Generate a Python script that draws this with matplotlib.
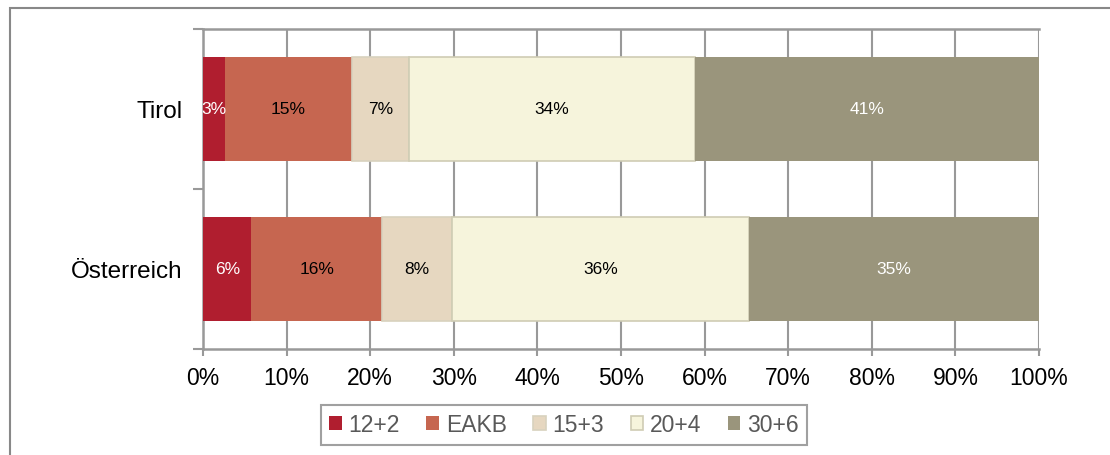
import numpy as np
import matplotlib
matplotlib.use('Agg')
import matplotlib.pyplot as plt
from matplotlib.patches import Rectangle

plt.rcParams['font.family'] = ['Liberation Sans', 'DejaVu Sans']

# data (shares in %)
regions = ['Tirol', 'Österreich']
series = ['12+2', 'EAKB', '15+3', '20+4', '30+6']
tirol = [2.6, 15.2, 6.8, 34.3, 41.1]
oesterreich = [5.8, 15.6, 8.4, 35.5, 34.7]
tirol_labels = ['3%', '15%', '7%', '34%', '41%']
oesterreich_labels = ['6%', '16%', '8%', '36%', '35%']

colors = ['#B01E2F', '#C66650', '#E6D7C0', '#F6F4DC', '#9A957C']
edges = ['none', 'none', '#D8D2BE', '#CFCCB4', 'none']
text_colors = ['white', 'black', 'black', 'black', 'white']

values = np.array([tirol, oesterreich])
labels = [tirol_labels, oesterreich_labels]
ypos = np.array([1, 0])

fig = plt.figure(figsize=(11.1, 4.55), dpi=100)
ax = fig.add_axes([203 / 1110, 1 - 349 / 455, 836 / 1110, 320 / 455])

left = np.zeros(len(regions))
for j, name in enumerate(series):
    w = values[:, j]
    ax.barh(ypos, w, left=left, height=0.65, color=colors[j],
            edgecolor=edges[j], linewidth=1.2 if edges[j] != 'none' else 0,
            label=name, zorder=3)
    for i in range(len(regions)):
        ax.text(left[i] + w[i] / 2, ypos[i], labels[i][j], ha='center',
                va='center', fontsize=12.5, color=text_colors[j], zorder=4)
    left += w

ax.set_xlim(0, 100)
ax.set_ylim(-0.5, 1.5)
ax.set_xticks(np.arange(0, 101, 10))
ax.set_xticklabels([f'{v}%' for v in range(0, 101, 10)], fontsize=16.5)
ax.set_yticks(ypos)
ax.set_yticklabels(regions, fontsize=17.5)
ax.set_yticks([-0.5, 0.5, 1.5], minor=True)
ax.tick_params(axis='y', which='major', length=0, pad=15)
ax.tick_params(axis='y', which='minor', length=7, width=1.5, color='#999999')
ax.tick_params(axis='x', length=5, width=1.5, color='#999999', pad=8)
ax.grid(axis='x', color='#999999', linewidth=1.5, zorder=1)
for s in ['left', 'bottom', 'top']:
    ax.spines[s].set_color('#999999')
    ax.spines[s].set_linewidth(1.8)
ax.spines['right'].set_visible(False)

handles, lbls = ax.get_legend_handles_labels()
leg = fig.legend(handles, lbls, loc='center', bbox_to_anchor=(564 / 1110, 1 - 425 / 455),
                 ncol=5, fontsize=16.5, frameon=True, fancybox=False,
                 handlelength=0.55, handleheight=0.55, handletextpad=0.3,
                 columnspacing=1.15, borderpad=0.35)
leg.get_frame().set_edgecolor('#888888')
leg.get_frame().set_linewidth(1.5)
for t in leg.get_texts():
    t.set_color('#595959')

# outer chart border
fig.patches.append(Rectangle((9.5 / 1110, -0.1), 1.2, 1.1 - 8.5 / 455,
                             transform=fig.transFigure, fill=False,
                             edgecolor='#888888', linewidth=1.5))

fig.savefig('out.png', dpi=100)
